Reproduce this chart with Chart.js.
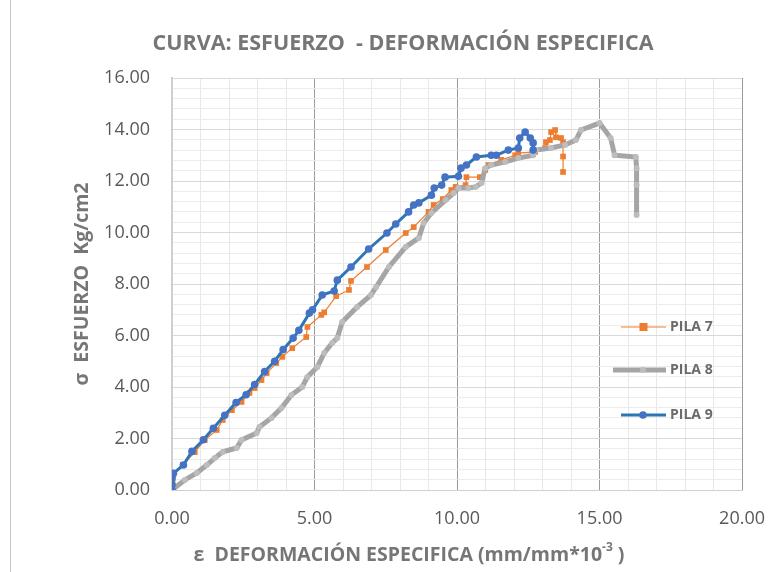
<!DOCTYPE html>
<html>
<head>
<meta charset="utf-8">
<script src="https://cdn.jsdelivr.net/npm/chart.js@4.4.1/dist/chart.umd.min.js"></script>
<style>
  html, body { margin: 0; padding: 0; background: #fff; }
  #wrap { width: 783px; height: 572px; position: relative; }
</style>
</head>
<body>
<div id="wrap"><canvas id="curva" width="783" height="572"></canvas></div>
<script>
// datos (deformacion x10^-3, esfuerzo Kg/cm2)
var pila7X = [0, 0.02, 0.05, 0.38, 0.8, 1.15, 1.57, 1.78, 2.1, 2.44, 2.72, 2.9, 3.14, 3.32, 3.66, 3.87, 4.22, 4.71, 4.75, 5.24, 5.34, 5.76, 6.21, 6.28, 6.84, 7.5, 8.2, 8.48, 9.0, 9.18, 9.5, 9.8, 9.95, 10.3, 10.33, 10.8, 10.99, 11.1, 11.55, 12.04, 12.15, 12.74, 13.09, 13.12, 13.26, 13.3, 13.44, 13.47, 13.65, 13.72, 13.72, 13.72];
var pila7Y = [0, 0.3, 0.6, 0.97, 1.47, 1.94, 2.33, 2.72, 3.1, 3.42, 3.77, 3.96, 4.27, 4.54, 4.93, 5.17, 5.51, 5.94, 6.33, 6.8, 6.9, 7.53, 7.77, 8.12, 8.66, 9.32, 9.98, 10.21, 10.8, 11.07, 11.3, 11.65, 11.77, 11.84, 12.15, 12.15, 12.43, 12.62, 12.82, 13.0, 13.08, 13.13, 13.28, 13.51, 13.59, 13.9, 13.98, 13.7, 13.67, 13.51, 12.95, 12.35];

var pila8X = [0, 0.45, 0.87, 1.22, 1.5, 1.78, 2.27, 2.44, 2.97, 3.07, 3.49, 3.84, 4.19, 4.57, 4.75, 5.1, 5.34, 5.62, 5.8, 5.97, 6.49, 6.98, 7.16, 7.61, 8.2, 8.66, 8.83, 9.1, 9.6, 9.88, 10.05, 10.4, 10.65, 10.86, 10.99, 11.2, 11.69, 12.15, 12.67, 12.77, 13.3, 13.79, 14.17, 14.35, 15.0, 15.39, 15.53, 16.27, 16.3, 16.3, 16.3];
var pila8Y = [0, 0.39, 0.66, 0.97, 1.24, 1.48, 1.63, 1.94, 2.21, 2.45, 2.8, 3.18, 3.69, 4.0, 4.39, 4.78, 5.32, 5.71, 5.9, 6.52, 7.1, 7.57, 7.88, 8.66, 9.44, 9.79, 10.37, 10.76, 11.26, 11.53, 11.73, 11.73, 11.77, 11.92, 12.5, 12.62, 12.74, 12.89, 13.0, 13.2, 13.28, 13.4, 13.59, 13.98, 14.25, 13.67, 13.0, 12.93, 12.5, 11.84, 10.68];

var pila9X = [0, 0, 0, 0.05, 0.4, 0.7, 1.1, 1.45, 1.85, 2.25, 2.6, 2.9, 3.25, 3.6, 3.9, 4.25, 4.45, 4.82, 4.93, 5.27, 5.69, 5.8, 6.28, 6.9, 7.54, 7.85, 8.3, 8.48, 8.66, 9.1, 9.2, 9.46, 9.58, 10.05, 10.14, 10.33, 10.68, 11.2, 11.38, 11.8, 12.15, 12.2, 12.39, 12.57, 12.67, 12.67];
var pila9Y = [0, 0.2, 0.45, 0.65, 0.97, 1.5, 1.95, 2.4, 2.9, 3.4, 3.7, 4.1, 4.6, 5.0, 5.45, 5.9, 6.2, 6.87, 7.0, 7.57, 7.73, 8.15, 8.66, 9.36, 9.98, 10.33, 10.8, 11.07, 11.15, 11.45, 11.73, 11.84, 12.15, 12.18, 12.5, 12.62, 12.93, 13.0, 13.0, 13.2, 13.28, 13.67, 13.9, 13.67, 13.48, 13.2];

var series = ['PILA 7', 'PILA 8', 'PILA 9'];
var xTicks = [0, 5, 10, 15, 20];
var yTicks = [0, 2, 4, 6, 8, 10, 12, 14, 16];

function puntos(xs, ys) {
    var out = [];
    for (var i = 0; i < xs.length; i++) out.push({ x: xs[i], y: ys[i] });
    return out;
}

var gris = '#767676';

// titulos, marco y leyenda dibujados a mano
var textos = {
    id: 'textos',
    afterDraw: function (chart) {
        var ctx = chart.ctx;
        var a = chart.chartArea;
        ctx.save();

        ctx.strokeStyle = '#c6c6c6';
        ctx.lineWidth = 1;
        ctx.beginPath();
        ctx.moveTo(10.5, 0); ctx.lineTo(10.5, 572);
        ctx.stroke();

        ctx.fillStyle = gris;
        ctx.textAlign = 'center';
        ctx.textBaseline = 'middle';
        ctx.font = 'bold 21.5px "Open Sans"';
        ctx.fillText('CURVA: ESFUERZO  - DEFORMACIÓN ESPECIFICA', 403, 44);

        // eje x
        ctx.font = 'bold 19.5px "Open Sans"';
        var t1 = 'ε  DEFORMACIÓN ESPECIFICA (mm/mm*10';
        var t3 = ' )';
        ctx.textAlign = 'left';
        var w1 = ctx.measureText(t1).width;
        ctx.font = 'bold 12px "Open Sans"';
        var w2 = ctx.measureText('-3').width;
        ctx.font = 'bold 19.5px "Open Sans"';
        var w3 = ctx.measureText(t3).width;
        var x0 = 409 - (w1 + w2 + w3) / 2;
        ctx.fillText(t1, x0, 555);
        ctx.font = 'bold 12px "Open Sans"';
        ctx.fillText('-3', x0 + w1, 548);
        ctx.font = 'bold 19.5px "Open Sans"';
        ctx.fillText(t3, x0 + w1 + w2, 555);

        // eje y
        ctx.save();
        ctx.translate(82, (a.top + a.bottom) / 2);
        ctx.rotate(-Math.PI / 2);
        ctx.textAlign = 'center';
        ctx.fillText('σ  ESFUERZO  Kg/cm2', 0, 0);
        ctx.restore();

        // leyenda
        var ds = chart.data.datasets;
        var filas = [327, 370, 415];
        ctx.font = 'bold 14px "Open Sans"';
        ctx.textAlign = 'left';
        for (var i = 0; i < ds.length; i++) {
            var y = filas[i];
            ctx.strokeStyle = ds[i].borderColor;
            ctx.lineWidth = ds[i].borderWidth;
            ctx.beginPath();
            ctx.moveTo(i === 1 ? 613 : 621, y);
            ctx.lineTo(666, y);
            ctx.stroke();
            ctx.fillStyle = ds[i].pointBackgroundColor;
            if (ds[i].pointStyle === 'rect') {
                ctx.fillRect(639.5, y - 4, 8, 8);
            } else {
                ctx.beginPath();
                ctx.arc(643, y, ds[i].pointRadius, 0, Math.PI * 2);
                ctx.fill();
            }
            ctx.fillStyle = '#6b6b6b';
            ctx.fillText(ds[i].label, 670, y);
        }
        ctx.restore();
    }
};

var ctxCurva = document.getElementById('curva').getContext('2d');

var curva = new Chart(ctxCurva, {
    type: 'scatter',
    data: {
        datasets: [{
            label: series[0],
            data: puntos(pila7X, pila7Y),
            showLine: true,
            borderColor: '#ED7D31',
            borderWidth: 1.2,
            pointStyle: 'rect',
            pointRadius: 4,
            pointBackgroundColor: '#ED7D31',
            pointBorderWidth: 0,
            order: 2
        }, {
            label: series[1],
            data: puntos(pila8X, pila8Y),
            showLine: true,
            borderColor: '#A5A5A5',
            borderWidth: 5,
            pointRadius: 3,
            pointBackgroundColor: '#BDBDBD',
            pointBorderWidth: 0,
            order: 1
        }, {
            label: series[2],
            data: puntos(pila9X, pila9Y),
            showLine: true,
            borderColor: '#2E75B6',
            borderWidth: 3,
            pointRadius: 3.8,
            pointBackgroundColor: '#4472C4',
            pointBorderWidth: 0,
            order: 0
        }]
    },
    options: {
        responsive: false,
        animation: false,
        devicePixelRatio: 1,
        layout: { padding: { top: 78, right: 38, left: 0, bottom: 0 } },
        plugins: {
            legend: { display: false },
            tooltip: { enabled: false }
        },
        scales: {
            x: {
                type: 'linear',
                min: 0,
                max: 20,
                afterFit: function (s) { s.height = 82; },
                border: { color: '#d0d0d0' },
                grid: {
                    drawTicks: false,
                    color: function (c) {
                        var v = c.tick.value;
                        if (v === 0) return '#cfcfcf';
                        return v % 5 === 0 ? '#9a9a9a' : '#e8e8e8';
                    }
                },
                ticks: {
                    stepSize: 1,
                    autoSkip: false,
                    maxRotation: 0,
                    padding: 18,
                    color: '#595959',
                    font: { family: 'Open Sans', size: 18 },
                    callback: function (v) { return xTicks.indexOf(v) >= 0 ? v.toFixed(2) : ''; }
                }
            },
            y: {
                min: 0,
                max: 16,
                afterFit: function (s) { s.width = 172; },
                border: { color: '#cfcfcf', width: 2 },
                grid: {
                    drawTicks: false,
                    color: function (c) {
                        var v = Math.round(c.tick.value * 10) / 10;
                        return yTicks.indexOf(v) >= 0 ? '#d9d9d9' : '#ececec';
                    }
                },
                ticks: {
                    stepSize: 0.4,
                    autoSkip: false,
                    padding: 22,
                    color: '#595959',
                    font: { family: 'Open Sans', size: 18 },
                    callback: function (v) {
                        var r = Math.round(v * 10) / 10;
                        return yTicks.indexOf(r) >= 0 ? r.toFixed(2) : '';
                    }
                }
            }
        }
    },
    plugins: [textos]
});
</script>
</body>
</html>
